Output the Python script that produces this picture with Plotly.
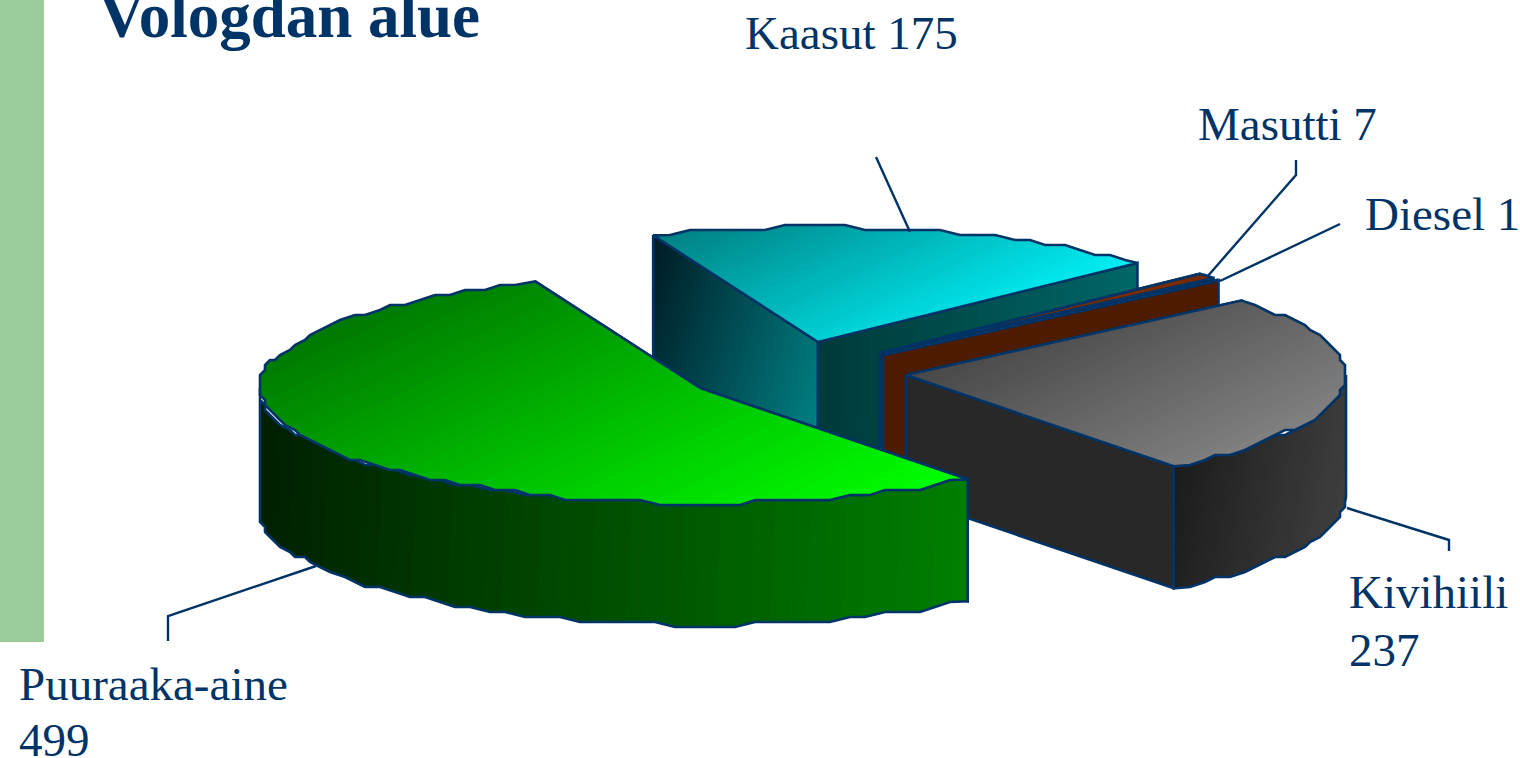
import math
import plotly.graph_objects as go

# ---- data ----
categories = ["Kaasut", "Masutti", "Diesel", "Kivihiili", "Puuraaka-aine"]
values = [175, 7, 1, 237, 499]
title_text = "Vologdan alue"

# ---- geometry / style ----
START_ANGLE = 112.0
RX, RY, DEPTH = 440.0, 115.0, 122.0
NAVY = "#003366"
apex = {"Kaasut": (818, 342), "Masutti": (880, 353), "Diesel": (883, 355),
        "Kivihiili": (906, 375), "Puuraaka-aine": (700, 388)}
G = (0.42, 0.9)
style = {
    "Kaasut": dict(top=((0, 128, 130), (0, 238, 244), G),
                   left=((0, 28, 38), (0, 132, 134), (1, 0.3)),
                   right=((0, 58, 58), (0, 102, 102), (1, 0)),
                   outer=((0, 90, 90), (0, 90, 90), (1, 0))),
    "Masutti": dict(top=((122, 42, 0), (122, 42, 0), G),
                    left=((77, 28, 0), (77, 28, 0), (1, 0)),
                    right=((77, 28, 0), (77, 28, 0), (1, 0)),
                    outer=((77, 28, 0), (77, 28, 0), (1, 0))),
    "Diesel": dict(top=((122, 42, 0), (122, 42, 0), G),
                   left=((77, 28, 0), (77, 28, 0), (1, 0)),
                   right=((77, 28, 0), (77, 28, 0), (1, 0)),
                   outer=((77, 28, 0), (77, 28, 0), (1, 0))),
    "Kivihiili": dict(top=((72, 72, 72), (128, 128, 128), G),
                      left=((18, 18, 18), (62, 62, 62), (1, 0.35)),
                      right=((40, 40, 40), (40, 40, 40), (1, 0)),
                      outer=((28, 28, 28), (62, 62, 62), (1, 0.2))),
    "Puuraaka-aine": dict(top=((0, 122, 0), (0, 255, 0), G),
                          left=((0, 40, 0), (0, 40, 0), (1, 0)),
                          right=((0, 60, 0), (0, 60, 0), (1, 0)),
                          outer=((0, 32, 0), (0, 126, 0), (1, 0.05))),
}
JAG = 5.0
traces = []


def clip(poly, d, lo):
    out = []
    for i, p in enumerate(poly):
        q = poly[(i + 1) % len(poly)]
        a = p[0] * d[0] + p[1] * d[1] - lo
        b = q[0] * d[0] + q[1] * d[1] - lo
        if a >= 0:
            out.append(p)
        if (a >= 0) != (b >= 0):
            s = a / (a - b)
            out.append((p[0] + s * (q[0] - p[0]), p[1] + s * (q[1] - p[1])))
    return out


def face(poly, grad, n=40):
    c0, c1, d = grad
    pr = [p[0] * d[0] + p[1] * d[1] for p in poly]
    lo, hi = min(pr), max(pr)
    steps = 1 if c0 == c1 else n
    for i in range(steps):
        t = i / max(steps - 1, 1)
        col = tuple(round(a + (b - a) * t) for a, b in zip(c0, c1))
        pts = clip(poly, d, lo + (hi - lo) * i / steps) if i else poly
        if len(pts) < 3:
            continue
        traces.append(go.Scatter(
            x=[p[0] for p in pts] + [pts[0][0]], y=[p[1] for p in pts] + [pts[0][1]],
            mode="lines", fill="toself", fillcolor="rgb(%d,%d,%d)" % col,
            line=dict(width=0), hoverinfo="skip", showlegend=False))
    traces.append(go.Scatter(
        x=[p[0] for p in poly] + [poly[0][0]], y=[p[1] for p in poly] + [poly[0][1]],
        mode="lines", line=dict(color=NAVY, width=2.6), hoverinfo="skip", showlegend=False))


def arc(A, t0, t1):
    """points clockwise from t0 down to t1 (degrees), slightly jagged outline"""
    k = max(2, int(abs(t0 - t1) / 2.5))
    pts = []
    for i in range(k + 1):
        t = math.radians(t0 + (t1 - t0) * i / k)
        x = A[0] + RX * math.cos(t)
        y = A[1] - RY * math.sin(t)
        if 0 < i < k:
            x = round(x / JAG) * JAG
            y = round(y / JAG) * JAG
        if not pts or (x, y) != pts[-1]:
            pts.append((x, y))
    return pts


# angular span of every slice comes from the values
total = sum(values)
spans = {}
a = START_ANGLE
for c, v in zip(categories, values):
    b = a - 360.0 * v / total
    spans[c] = (a, b)
    a = b

for c in categories:
    A = apex[c]
    t0, t1 = spans[c]
    st = style[c]
    top = [A] + arc(A, t0, t1)
    P0, P1 = top[1], top[-1]
    down = lambda p: (p[0], p[1] + DEPTH)
    face([A, P0, down(P0), down(A)], st["left"])
    face([A, P1, down(P1), down(A)], st["right"])
    # visible outer wall: part of the arc below the ellipse's widest line
    lo_t, hi_t = t1, t0
    vis = []
    for base in (-360, 0):
        s = max(t1, base - 180)
        e = min(t0, base)
        if e > s:
            vis.append((e, s))
    for e, s in vis:
        rim = arc(A, e, s)
        face(rim + [down(p) for p in reversed(rim)], st["outer"])
    face(top, st["top"])

# leader lines
leaders = [
    [(876, 157), (910, 232)],
    [(1296, 160), (1296, 175), (1207, 277)],
    [(1340, 224), (1220, 281)],
    [(1347, 508), (1449, 540), (1449, 551)],
    [(316, 566), (168, 616), (168, 641)],
]
shapes = [dict(type="rect", xref="x", yref="y", x0=0, x1=44, y0=0, y1=642,
               fillcolor="#9CCC99", line=dict(width=0), layer="below")]
for L in leaders:
    traces.append(go.Scatter(x=[p[0] for p in L], y=[p[1] for p in L], mode="lines",
                             line=dict(color=NAVY, width=2.4), hoverinfo="skip", showlegend=False))

val = dict(zip(categories, values))
labels = [
    ("%s %d" % ("Kaasut", val["Kaasut"]), 743, 33, "left"),
    ("%s %d" % ("Masutti", val["Masutti"]), 1196, 124, "left"),
    ("%s %d" % ("Diesel", val["Diesel"]), 1363, 214, "left"),
    ("Kivihiili", 1347, 592, "left"),
    (str(val["Kivihiili"]), 1347, 650, "left"),
    ("Puuraaka-aine", 17, 684, "left"),
    (str(val["Puuraaka-aine"]), 17, 740, "left"),
]
ann = [dict(text=t, x=x, y=y, xref="x", yref="y", xanchor="left", yanchor="middle",
            showarrow=False, align="left", font=dict(family="Liberation Serif", size=47, color=NAVY))
       for t, x, y, _ in labels]
ann.append(dict(text="<b>%s</b>" % title_text, x=97, y=16, xref="x", yref="y", xanchor="left",
                yanchor="middle", showarrow=False,
                font=dict(family="Liberation Serif", size=63, color=NAVY)))

fig = go.Figure(traces)
fig.update_layout(
    width=1520, height=758, margin=dict(l=0, r=0, t=0, b=0),
    paper_bgcolor="white", plot_bgcolor="white", showlegend=False,
    xaxis=dict(range=[0, 1520], visible=False, fixedrange=True),
    yaxis=dict(range=[758, 0], visible=False, fixedrange=True),
    shapes=shapes, annotations=ann)
fig.write_html("out.html", config={"displayModeBar": False},
               post_script="document.body.style.margin='0';document.body.style.overflow='hidden';")
